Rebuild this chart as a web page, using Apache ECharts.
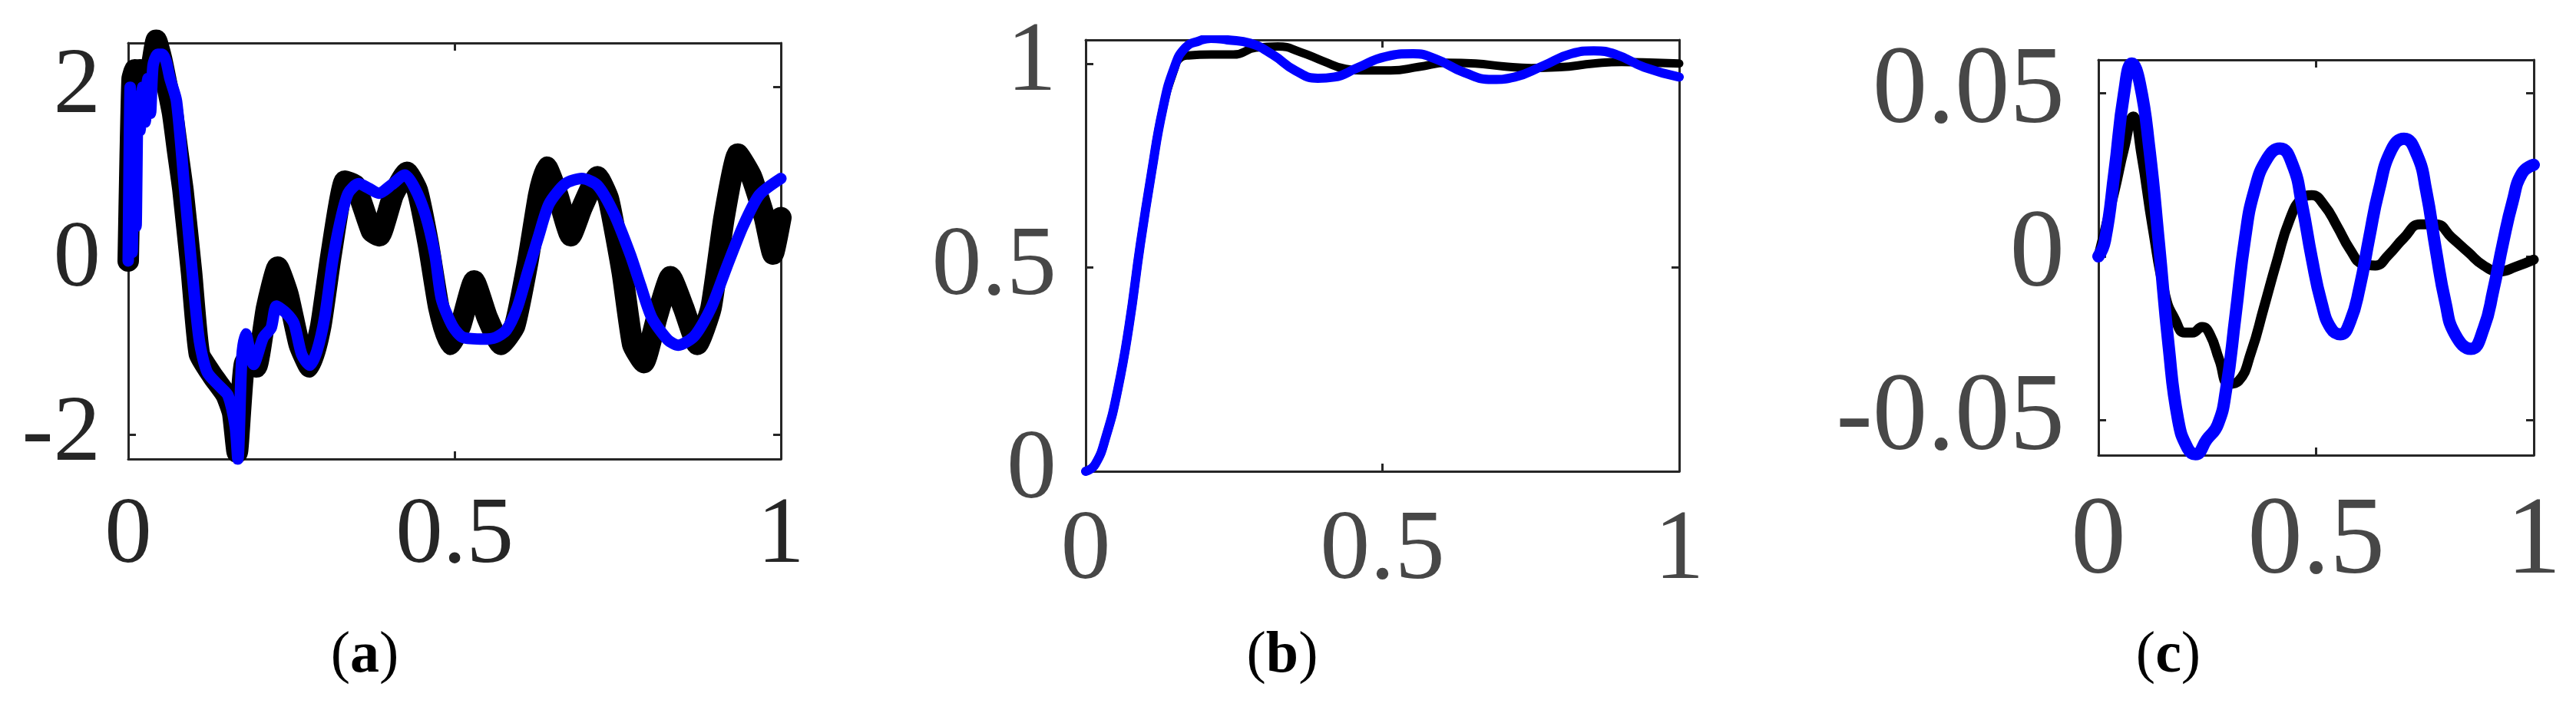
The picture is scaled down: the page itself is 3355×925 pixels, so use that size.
<!DOCTYPE html>
<html>
<head>
<meta charset="utf-8">
<script src="https://cdn.jsdelivr.net/npm/echarts@6/dist/echarts.min.js"></script>
<style>
  html, body { margin: 0; padding: 0; background: #fff; }
  #chart { width: 3355px; height: 925px; }
</style>
</head>
<body>
<div id="chart"></div>
<script>
// panel (a)
const aBlackX = [0, 0.003, 0.006, 0.01, 0.014, 0.018, 0.022, 0.027, 0.032, 0.037, 0.043, 0.051, 0.06, 0.068, 0.076, 0.084, 0.097, 0.109, 0.13, 0.15, 0.16, 0.167, 0.179, 0.196, 0.212, 0.229, 0.245, 0.262, 0.278, 0.295, 0.311, 0.332, 0.348, 0.373, 0.385, 0.406, 0.427, 0.443, 0.46, 0.476, 0.493, 0.509, 0.53, 0.55, 0.571, 0.592, 0.612, 0.629, 0.641, 0.658, 0.678, 0.695, 0.719, 0.736, 0.757, 0.773, 0.79, 0.81, 0.831, 0.851, 0.872, 0.893, 0.913, 0.934, 0.955, 0.975, 0.988, 1.0];
const aBlackY = [0, 1.2, 2.1, 2.2, 1.8, 2.2, 1.9, 2.0, 2.1, 2.3, 2.54, 2.33, 2.0, 1.7, 1.25, 0.81, -0.13, -1.07, -1.33, -1.54, -1.75, -2.2, -1.17, -1.22, -0.54, -0.07, -0.39, -0.96, -1.22, -0.75, 0.08, 0.92, 0.87, 0.34, 0.29, 0.76, 1.02, 0.81, 0.19, -0.54, -0.96, -0.75, -0.23, -0.65, -0.96, -0.75, -0.02, 0.76, 1.08, 0.76, 0.29, 0.61, 0.97, 0.71, -0.13, -0.96, -1.17, -0.65, -0.18, -0.54, -0.96, -0.54, 0.5, 1.23, 0.97, 0.5, 0.08, 0.5];
const aBlueX = [0, 0.003, 0.006, 0.009, 0.012, 0.015, 0.018, 0.022, 0.026, 0.03, 0.034, 0.038, 0.045, 0.052, 0.058, 0.064, 0.074, 0.086, 0.098, 0.109, 0.121, 0.141, 0.153, 0.164, 0.168, 0.174, 0.18, 0.192, 0.207, 0.219, 0.227, 0.242, 0.254, 0.266, 0.278, 0.289, 0.301, 0.313, 0.325, 0.337, 0.353, 0.368, 0.384, 0.404, 0.424, 0.439, 0.455, 0.47, 0.48, 0.497, 0.513, 0.546, 0.563, 0.579, 0.596, 0.612, 0.629, 0.645, 0.67, 0.695, 0.719, 0.744, 0.769, 0.785, 0.802, 0.827, 0.843, 0.868, 0.893, 0.917, 0.942, 0.967, 1.0];
const aBlueY = [0, 2.0, 0.1, 1.9, 0.4, 1.8, 1.5, 2.0, 1.6, 2.1, 1.7, 2.25, 2.38, 2.38, 2.3, 2.1, 1.84, 0.86, -0.13, -0.92, -1.28, -1.45, -1.55, -1.91, -2.28, -1.12, -0.84, -1.19, -0.88, -0.77, -0.52, -0.6, -0.72, -1.08, -1.2, -1.04, -0.65, -0.01, 0.46, 0.78, 0.89, 0.84, 0.78, 0.88, 0.99, 0.84, 0.54, 0.07, -0.44, -0.75, -0.88, -0.9, -0.88, -0.8, -0.54, -0.13, 0.29, 0.66, 0.89, 0.95, 0.87, 0.55, 0.08, -0.28, -0.65, -0.91, -0.97, -0.86, -0.54, -0.07, 0.4, 0.76, 0.95];
const aYTicks = [-2, 0, 2];

// panel (b)
const bBlackX = [0, 0.016, 0.035, 0.054, 0.073, 0.092, 0.111, 0.13, 0.149, 0.16, 0.173, 0.211, 0.249, 0.287, 0.324, 0.362, 0.4, 0.438, 0.476, 0.514, 0.562, 0.609, 0.657, 0.704, 0.751, 0.799, 0.856, 0.903, 0.96, 1.0];
const bBlackY = [0, 0.017, 0.089, 0.2, 0.356, 0.556, 0.733, 0.889, 0.985, 1.015, 1.02, 1.022, 1.022, 1.039, 1.042, 1.028, 1.006, 0.987, 0.983, 0.983, 0.992, 1.002, 1.0, 0.993, 0.989, 0.991, 1.0, 1.004, 1.002, 1.0];
const bBlueX = [0, 0.016, 0.035, 0.054, 0.073, 0.092, 0.111, 0.13, 0.149, 0.168, 0.192, 0.211, 0.239, 0.277, 0.315, 0.353, 0.391, 0.419, 0.457, 0.505, 0.552, 0.59, 0.638, 0.685, 0.723, 0.77, 0.818, 0.856, 0.894, 0.941, 1.0];
const bBlueY = [0, 0.017, 0.089, 0.2, 0.356, 0.556, 0.733, 0.889, 0.989, 1.039, 1.056, 1.062, 1.058, 1.05, 1.022, 0.983, 0.964, 0.967, 0.989, 1.017, 1.024, 1.011, 0.978, 0.961, 0.967, 0.994, 1.024, 1.031, 1.022, 0.991, 0.967];
const bYTicks = [0, 0.5, 1];

// panel (c)
const cBlackX = [0, 0.037, 0.059, 0.08, 0.099, 0.124, 0.154, 0.176, 0.198, 0.216, 0.238, 0.256, 0.278, 0.3, 0.322, 0.351, 0.38, 0.41, 0.439, 0.468, 0.49, 0.519, 0.548, 0.578, 0.607, 0.636, 0.666, 0.702, 0.739, 0.775, 0.812, 0.849, 0.885, 0.922, 0.958, 1.0];
const cBlackY = [0, 0.02, 0.033, 0.0428, 0.031, 0.0093, -0.0122, -0.0193, -0.0233, -0.0233, -0.0216, -0.0238, -0.0318, -0.039, -0.0381, -0.0292, -0.0157, -0.0014, 0.0111, 0.0178, 0.0187, 0.0156, 0.0093, 0.0021, -0.0023, -0.0028, 0.0004, 0.0057, 0.0098, 0.0098, 0.0057, 0.0013, -0.0028, -0.0046, -0.0032, -0.001];
const cBlueX = [0, 0.015, 0.037, 0.059, 0.077, 0.095, 0.117, 0.139, 0.161, 0.183, 0.205, 0.223, 0.249, 0.274, 0.293, 0.315, 0.337, 0.358, 0.388, 0.417, 0.446, 0.468, 0.49, 0.512, 0.534, 0.556, 0.578, 0.6, 0.622, 0.644, 0.673, 0.702, 0.732, 0.753, 0.775, 0.797, 0.819, 0.856, 0.885, 0.907, 0.929, 0.951, 0.973, 1.0];
const cBlueY = [0, 0.0048, 0.026, 0.05, 0.059, 0.053, 0.033, 0.004, -0.027, -0.05, -0.0587, -0.0605, -0.056, -0.0515, -0.041, -0.018, 0.0057, 0.02, 0.03, 0.033, 0.028, 0.0156, -0.0005, -0.014, -0.022, -0.0238, -0.02, -0.0095, 0.0057, 0.02, 0.0326, 0.036, 0.031, 0.02, 0.0021, -0.014, -0.0238, -0.0283, -0.022, -0.0104, 0.0039, 0.0165, 0.0254, 0.028];
const cYTicks = [-0.05, 0, 0.05];

const xTicks = [0, 0.5, 1];

function pairs(xs, ys) {
  return xs.map((x, i) => [x, ys[i]]);
}

var chartDom = document.getElementById("chart");
var myChart = echarts.init(chartDom);

const boxColor = "#262626";
const font = "Liberation Serif";

// one panel = grid + bottom/top x axes + left/right y axes
const panels = [
  { grid: { left: 167, top: 56, width: 850, height: 542 }, ymin: -2.28, ymax: 2.51, yTicks: aYTicks, labelColor: "#262626", fontSize: 123, xMargin: 40, yMargin: 36 },
  { grid: { left: 1414, top: 52, width: 773, height: 562 }, ymin: 0, ymax: 1.058, yTicks: bYTicks, labelColor: "#474747", fontSize: 130, xMargin: 40, yMargin: 38 },
  { grid: { left: 2733, top: 78, width: 567, height: 515 }, ymin: -0.0608, ymax: 0.0601, yTicks: cYTicks, labelColor: "#474747", fontSize: 143, xMargin: 44, yMargin: 44 },
];

const grids = [];
const xAxes = [];
const yAxes = [];
panels.forEach((p, i) => {
  grids.push(Object.assign({ containLabel: false }, p.grid));
  const line = { show: true, onZero: false, lineStyle: { color: boxColor, width: 3 } };
  const tick = { show: true, inside: true, length: 10, lineStyle: { color: boxColor, width: 3 } };
  xAxes.push({
    type: "value", gridIndex: i, position: "bottom", min: 0, max: 1,
    axisLine: line, splitLine: { show: false },
    axisTick: Object.assign({ customValues: xTicks }, tick),
    axisLabel: { customValues: xTicks, margin: p.xMargin, color: p.labelColor, fontFamily: font, fontSize: p.fontSize },
  });
  xAxes.push({
    type: "value", gridIndex: i, position: "top", min: 0, max: 1,
    axisLine: line, splitLine: { show: false },
    axisTick: Object.assign({ customValues: xTicks }, tick),
    axisLabel: { show: false },
  });
  yAxes.push({
    type: "value", gridIndex: i, position: "left", min: p.ymin, max: p.ymax,
    axisLine: line, splitLine: { show: false },
    axisTick: Object.assign({ customValues: p.yTicks }, tick),
    axisLabel: { customValues: p.yTicks, margin: p.yMargin, color: p.labelColor, fontFamily: font, fontSize: p.fontSize },
  });
  yAxes.push({
    type: "value", gridIndex: i, position: "right", min: p.ymin, max: p.ymax,
    axisLine: line, splitLine: { show: false },
    axisTick: Object.assign({ customValues: p.yTicks }, tick),
    axisLabel: { show: false },
  });
});

function lineSeries(panel, data, color, width, smooth, clip) {
  return {
    type: "line",
    xAxisIndex: panel * 2,
    yAxisIndex: panel * 2,
    data: data,
    showSymbol: false,
    smooth: smooth,
    clip: clip,
    lineStyle: { color: color, width: width, cap: "round", join: "round" },
    silent: true,
    animation: false,
  };
}

const rich = {
  p: { fontFamily: font, fontSize: 76, fontWeight: "normal", color: "#000" },
  b: { fontFamily: font, fontSize: 76, fontWeight: "bold", color: "#000" },
};

var option = {
  backgroundColor: "#fff",
  animation: false,
  title: [
    { text: "{p|(}{b|a}{p|)}", left: 470, top: 812, textAlign: "center", textStyle: { fontWeight: "normal", rich: rich } },
    { text: "{p|(}{b|b}{p|)}", left: 1665, top: 812, textAlign: "center", textStyle: { fontWeight: "normal", rich: rich } },
    { text: "{p|(}{b|c}{p|)}", left: 2819, top: 812, textAlign: "center", textStyle: { fontWeight: "normal", rich: rich } },
  ],
  grid: grids,
  xAxis: xAxes,
  yAxis: yAxes,
  series: [
    lineSeries(0, pairs(aBlackX, aBlackY), "#000000", 28, 0.15, false),
    lineSeries(0, pairs(aBlueX, aBlueY), "#0000ff", 15, 0.25, false),
    lineSeries(1, pairs(bBlackX, bBlackY), "#000000", 11, 0.5, true),
    lineSeries(1, pairs(bBlueX, bBlueY), "#0000ff", 12, 0.5, true),
    lineSeries(2, pairs(cBlackX, cBlackY), "#000000", 13, 0.5, false),
    lineSeries(2, pairs(cBlueX, cBlueY), "#0000ff", 16, 0.5, false),
  ],
};

option && myChart.setOption(option);
</script>
</body>
</html>
